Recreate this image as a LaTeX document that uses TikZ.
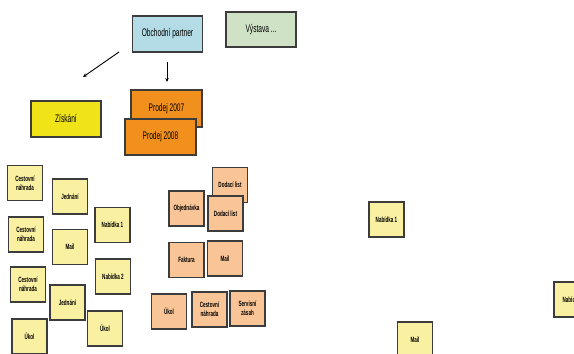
\documentclass[tikz,border=0pt]{standalone}
\usepackage{fontspec}
\setmainfont{Liberation Sans}[FakeStretch=0.6]
\usetikzlibrary{arrows.meta}
\definecolor{partnerblue}{HTML}{B4DCE6}
\definecolor{expogreen}{HTML}{CFE2C6}
\definecolor{gainyellow}{HTML}{F0E418}
\definecolor{saleorange}{HTML}{F2901E}
\definecolor{noteyellow}{HTML}{FAF0A2}
\definecolor{notepeach}{HTML}{FAC596}
\definecolor{edgegray}{HTML}{3C3C3C}
\tikzset{
  bigbox/.style={draw=edgegray, line width=1.1pt, minimum width=70pt, minimum height=36pt,
    inner sep=1pt, font=\fontsize{11}{12}\selectfont, align=center},
  note/.style={draw=edgegray, line width=1.1pt, minimum width=35pt, minimum height=35pt,
    inner sep=1pt, font=\fontsize{7.6}{8.6}\selectfont\bfseries, align=center, fill=noteyellow},
  peach/.style={note, fill=notepeach},
  tip/.style={-{Stealth[length=4pt,width=3.5pt]}, line width=0.9pt}
}
\begin{document}
\begin{tikzpicture}[x=1pt,y=-1pt]
\useasboundingbox[fill=white] (0,0) rectangle (574,354);

% top row
\node[bigbox, fill=partnerblue] (partner) at (167.5,34) {Obchodní partner};
\node[bigbox, fill=expogreen, minimum height=35pt] (expo) at (261,29.5) {Výstava ...};
\node[bigbox, fill=gainyellow] (gain) at (66,119) {Získání};
\node[bigbox, fill=saleorange, minimum width=71pt, minimum height=37pt] (sale7) at (166.5,108.5) {Prodej 2007};
\node[bigbox, fill=saleorange, minimum width=71pt] (sale8) at (160.5,137) {Prodej 2008};

% loose arrows
\coordinate (a1s) at (119,52);
\coordinate (a1e) at (83,77);
\coordinate (a2s) at (167,62);
\coordinate (a2e) at (167,82);
\draw[tip] (a1s) -- (a1e);
\draw[tip] (a2s) -- (a2e);

% left cluster
\node[note] (cn1) at (25,183) {Cestovní\\náhrada};
\node[note] (jd1) at (70,196.5) {Jednání};
\node[note] (nb1) at (112.5,225) {Nabídka 1};
\node[note] (cn2) at (26,234.5) {Cestovní\\náhrada};
\node[note] (ml1) at (70,247) {Mail};
\node[note] (nb2) at (113,276.5) {Nabídka 2};
\node[note] (cn3) at (28,284.5) {Cestovní\\náhrada};
\node[note] (jd2) at (67.5,302.5) {Jednání};
\node[note] (uk1) at (29.5,336.5) {Úkol};
\node[note] (uk2) at (105,328.5) {Úkol};

% middle cluster
\node[peach] (dl1) at (230,185) {Dodací list};
\node[peach] (obj) at (186.5,208.5) {Objednávka};
\node[peach] (dl2) at (225.5,213.5) {Dodací list};
\node[peach] (fak) at (186.5,260) {Faktura};
\node[peach] (ml2) at (225,258.5) {Mail};
\node[peach] (uk3) at (169,311.5) {Úkol};
\node[peach] (cn4) at (209.5,309.5) {Cestovní\\náhrada};
\node[peach] (srv) at (247.5,308.5) {Servisní\\zásah};

% right scattered notes
\node[note] (nb3) at (386.5,219.5) {Nabídka 1};
\node[note] (ml3) at (415,339.5) {Mail};
\node[note] (nb4) at (571.5,299.5) {Nabídka};
\end{tikzpicture}
\end{document}
